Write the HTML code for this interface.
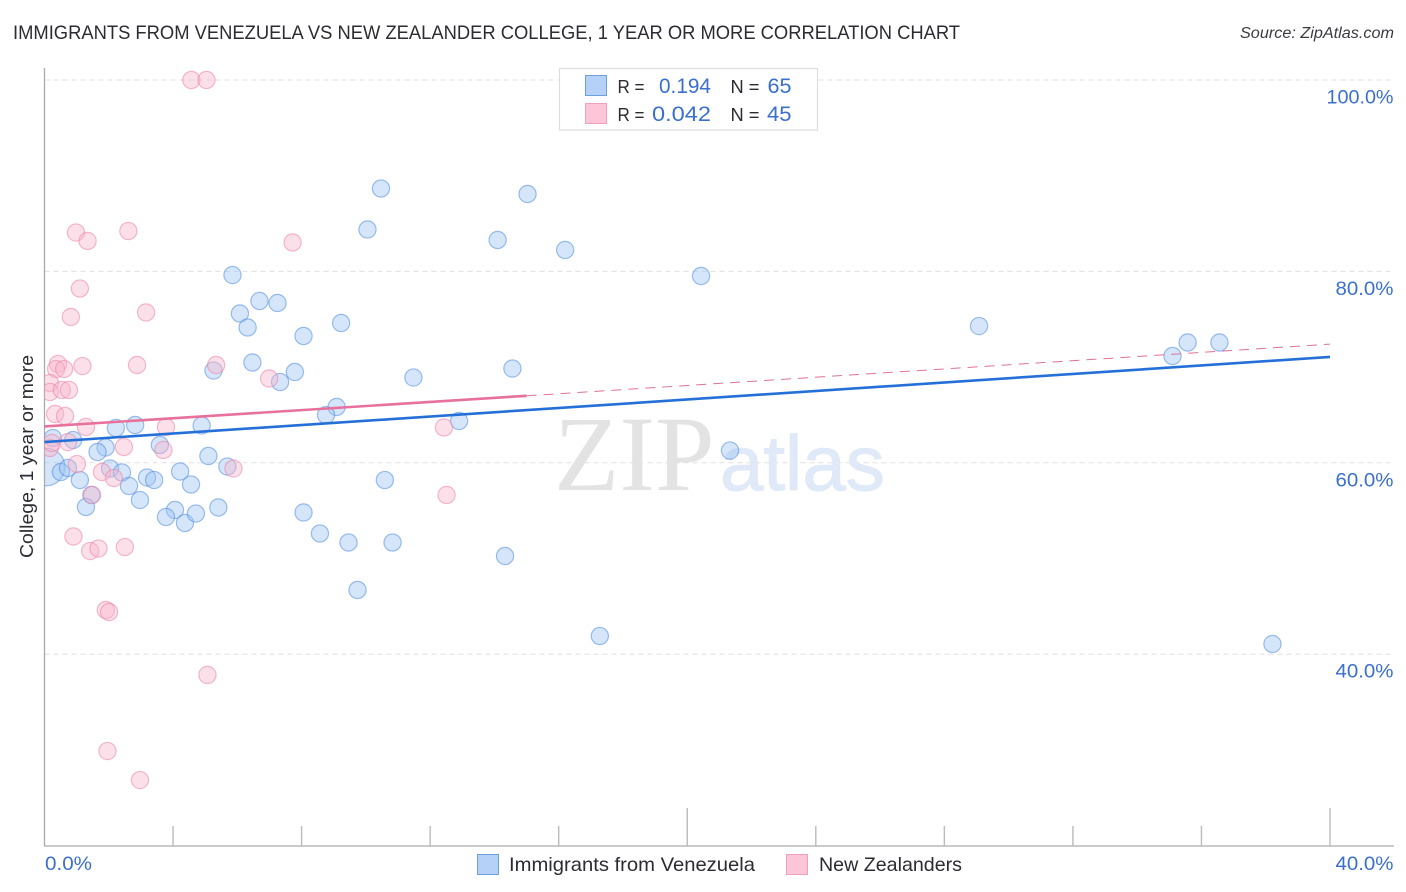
<!DOCTYPE html>
<html lang="en">
<head>
<meta charset="utf-8">
<title>Immigrants from Venezuela vs New Zealander College, 1 Year or More Correlation Chart</title>
<style>
  html, body { margin: 0; padding: 0; background: #fff; width: 1406px; height: 892px; overflow: hidden; }
  svg { display: block; font-family: "Liberation Sans", sans-serif; }
  .blue-text { fill: #3a6fd0; }
  .dark-text { fill: #2b2b33; }
</style>
</head>
<body>
<svg id="chart" xmlns="http://www.w3.org/2000/svg" width="1406" height="892" viewBox="0 0 1406 892">
  <defs>
    <clipPath id="plot-clip"><rect x="44.5" y="60" width="1350" height="786"></rect></clipPath>
  </defs>
  <rect x="0" y="0" width="1406" height="892" fill="#ffffff"></rect>

  <text x="13" y="39" font-size="19" fill="#2b2b33" textLength="947" lengthAdjust="spacingAndGlyphs">IMMIGRANTS FROM VENEZUELA VS NEW ZEALANDER COLLEGE, 1 YEAR OR MORE CORRELATION CHART</text>
  <text x="1394" y="38" font-size="15.5" font-style="italic" text-anchor="end" fill="#3a3a42" textLength="154" lengthAdjust="spacingAndGlyphs">Source: ZipAtlas.com</text>

  <g id="grid-layer"></g>

  <g>
    <text x="554" y="490" font-family="'Liberation Serif', serif" font-size="107" fill="#e3e3e3">ZIP</text>
    <text x="720" y="490" font-size="78" fill="#dfe9f8" stroke="#dfe9f8" stroke-width="1">atlas</text>
  </g>

  <line x1="44.5" y1="68" x2="44.5" y2="846" stroke="#aaaaaa" stroke-width="1.3"></line>
  <line x1="44" y1="846" x2="1394" y2="846" stroke="#aaaaaa" stroke-width="1.3"></line>
  <g id="tick-layer"></g>
  <g id="label-layer"></g>

  <g id="point-layer" clip-path="url(#plot-clip)"></g>
  <g id="trend-layer"></g>

  <text transform="translate(33,456.5) rotate(-90)" font-size="18.5" text-anchor="middle" fill="#2b2b33" textLength="203" lengthAdjust="spacingAndGlyphs">College, 1 year or more</text>

  <g>
    <rect x="559.5" y="68.5" width="258" height="61.5" fill="#ffffff" stroke="#dddddd" stroke-width="1.2"></rect>
    <rect x="585.5" y="75.5" width="21" height="20" fill="#b5d1f7" stroke="#6ea0e0" stroke-width="1"></rect>
    <rect x="585.5" y="103.5" width="21" height="20" fill="#fcc5d8" stroke="#f0a0bc" stroke-width="1"></rect>
    <text class="dark-text" x="617.5" y="93" font-size="18.5" textLength="27" lengthAdjust="spacingAndGlyphs">R =</text>
    <text class="blue-text" x="659" y="93" font-size="21.5" textLength="52" lengthAdjust="spacingAndGlyphs">0.194</text>
    <text class="dark-text" x="730.5" y="93" font-size="18.5" textLength="29" lengthAdjust="spacingAndGlyphs">N =</text>
    <text class="blue-text" x="767.5" y="93" font-size="21.5" textLength="24" lengthAdjust="spacingAndGlyphs">65</text>
    <text class="dark-text" x="617.5" y="121" font-size="18.5" textLength="27" lengthAdjust="spacingAndGlyphs">R =</text>
    <text class="blue-text" x="652" y="121" font-size="21.5" textLength="59" lengthAdjust="spacingAndGlyphs">0.042</text>
    <text class="dark-text" x="730.5" y="121" font-size="18.5" textLength="29" lengthAdjust="spacingAndGlyphs">N =</text>
    <text class="blue-text" x="767" y="121" font-size="21.5" textLength="24.5" lengthAdjust="spacingAndGlyphs">45</text>
  </g>

  <g>
    <rect x="477.5" y="854.5" width="21" height="20" fill="#b5d1f7" stroke="#6ea0e0" stroke-width="1"></rect>
    <text class="dark-text" x="509" y="871" font-size="19.5" textLength="246" lengthAdjust="spacingAndGlyphs">Immigrants from Venezuela</text>
    <rect x="786.5" y="854.5" width="21" height="20" fill="#fcc5d8" stroke="#f0a0bc" stroke-width="1"></rect>
    <text class="dark-text" x="819" y="871" font-size="19.5" textLength="143" lengthAdjust="spacingAndGlyphs">New Zealanders</text>
  </g>
</svg>

<script>
// Values (both axes in percent)
const blueX = [10.47,15.03,10.05,14.10,16.20,5.85,20.43,6.69,7.25,6.08,6.32,9.23,8.06,29.08,35.57,36.56,35.10,6.47,5.26,7.79,7.33,11.48,14.56,9.09,8.76,12.90,4.89,2.22,2.82,0.89,0.26,1.90,1.65,3.59,5.10,5.69,21.33,0.05,0.51,0.73,1.10,2.04,2.41,2.63,3.19,3.41,4.22,4.56,2.97,1.46,1.29,4.06,3.78,4.37,4.71,5.41,10.59,8.06,8.57,9.46,10.83,14.33,9.74,17.28,38.21];
const blueY = [88.66,88.09,84.38,83.28,82.24,79.62,79.52,76.91,76.70,75.60,74.14,74.61,73.25,74.29,72.57,72.57,71.16,70.48,69.64,69.49,68.44,68.91,69.85,65.83,64.99,64.37,63.90,63.64,63.95,62.38,62.59,61.60,61.13,61.86,60.71,59.61,61.28,59.56,59.04,59.46,58.20,59.40,58.99,57.58,58.46,58.20,59.09,57.73,56.11,56.64,55.38,55.07,54.34,53.71,54.70,55.33,58.20,54.81,52.61,51.67,51.67,50.26,46.71,41.90,41.07];
const blueWeights = [1,1,1,1,1,1,1,1,1,1,1,1,1,1,1,1,1,1,1,1,1,1,1,1,1,1,1,1,1,1,1,1,1,1,1,1,1,4.8,1,1,1,1,1,1,1,1,1,1,1,1,1,1,1,1,1,1,1,1,1,1,1,1,1,1,1];
const pinkX = [4.57,5.04,0.98,1.34,2.61,7.72,1.10,0.82,3.16,0.42,0.36,0.61,1.18,2.88,5.34,6.99,0.17,0.17,0.54,0.76,0.33,0.64,1.29,3.78,12.43,0.17,0.23,0.73,2.47,3.70,1.01,5.88,1.79,2.16,1.48,12.51,0.90,1.42,1.68,2.50,1.91,2.01,5.07,1.96,2.97];
const pinkY = [100,100,84.06,83.18,84.22,83.02,78.21,75.24,75.71,70.32,69.80,69.80,70.11,70.22,70.22,68.81,68.34,67.40,67.61,67.61,65.10,64.89,63.74,63.74,63.69,61.55,62.07,62.17,61.65,61.34,59.87,59.40,59.04,58.41,56.64,56.64,52.30,50.78,51.04,51.20,44.62,44.41,37.83,29.88,26.85];

const blueTrendX = [0,40];
const blueTrendY = [62.17,71.06];
const pinkSolidX = [0,15];
const pinkSolidY = [63.8,67.0];
const pinkDashedX = [15,40];
const pinkDashedY = [67.0,72.4];

const gridValues = [100,80,60,40];
const yTickLabels = ['100.0%','80.0%','60.0%','40.0%'];
const xTickValues = [4,8,12,16,20,24,28,32,36,40];
const xMajorTicks = [20,40];

const svgNS = 'http://www.w3.org/2000/svg';
function xScale(v) { return 44.5 + v * 32.1375; }
function yScale(v) { return 80 + (100 - v) * 9.57; }
function make(tag, attrs, parent) {
  const el = document.createElementNS(svgNS, tag);
  for (const k in attrs) el.setAttribute(k, attrs[k]);
  parent.appendChild(el);
  return el;
}

const gridLayer = document.getElementById('grid-layer');
gridValues.forEach(function (v) {
  const el = make('line', { x1: 44.5, x2: 1394, y1: yScale(v), y2: yScale(v), stroke: '#e0e0e0', 'stroke-width': 1, 'stroke-dasharray': '5 4' }, gridLayer);
  
  
});

const tickLayer = document.getElementById('tick-layer');
xTickValues.forEach(function (v) {
  const top = xMajorTicks.indexOf(v) >= 0 ? 808 : 826;
  const el = make('line', { x1: xScale(v), x2: xScale(v), y1: top, y2: 846, stroke: '#bbbbbb', 'stroke-width': 1.4 }, tickLayer);
  
  
});

const labelLayer = document.getElementById('label-layer');
gridValues.forEach(function (v, i) {
  const el = make('text', { x: 1393.5, y: yScale(v) + 23.5, 'font-size': 19.5, 'text-anchor': 'end', class: 'blue-text', textLength: yTickLabels[i].length > 5 ? 67 : 58, lengthAdjust: 'spacingAndGlyphs' }, labelLayer);
  el.textContent = yTickLabels[i];
  
  
});
const xMinLabel = make('text', { x: 45, y: 870, 'font-size': 19.5, class: 'blue-text', textLength: 47, lengthAdjust: 'spacingAndGlyphs' }, labelLayer);
xMinLabel.textContent = '0.0%';


const xMaxLabel = make('text', { x: 1393.5, y: 870, 'font-size': 19.5, 'text-anchor': 'end', class: 'blue-text', textLength: 58, lengthAdjust: 'spacingAndGlyphs' }, labelLayer);
xMaxLabel.textContent = '40.0%';



const pointLayer = document.getElementById('point-layer');
blueX.forEach(function (v, i) {
  const c = make('circle', { cx: xScale(v), cy: yScale(blueY[i]), r: 8.6 * Math.sqrt(blueWeights[i]), fill: 'rgba(155,195,242,0.42)', stroke: 'rgba(80,138,222,0.55)', 'stroke-width': 1.2 }, pointLayer);
  
  
});
pinkX.forEach(function (v, i) {
  const c = make('circle', { cx: xScale(v), cy: yScale(pinkY[i]), r: 8.6, fill: 'rgba(248,180,202,0.42)', stroke: 'rgba(235,130,170,0.55)', 'stroke-width': 1.2 }, pointLayer);
  
  
});

const trendLayer = document.getElementById('trend-layer');
const pinkDashedLine = make('line', { x1: xScale(pinkDashedX[0]), y1: yScale(pinkDashedY[0]), x2: xScale(pinkDashedX[1]), y2: yScale(pinkDashedY[1]), stroke: '#e0709a', 'stroke-width': 1, 'stroke-dasharray': '10 7' }, trendLayer);


const blueLine = make('line', { x1: xScale(blueTrendX[0]), y1: yScale(blueTrendY[0]), x2: xScale(blueTrendX[1]), y2: yScale(blueTrendY[1]), stroke: '#2570d8', 'stroke-width': 2.6 }, trendLayer);


const pinkLine = make('line', { x1: xScale(pinkSolidX[0]), y1: yScale(pinkSolidY[0]), x2: xScale(pinkSolidX[1]), y2: yScale(pinkSolidY[1]), stroke: '#e8709c', 'stroke-width': 2.6 }, trendLayer);


</script>
</body>
</html>
